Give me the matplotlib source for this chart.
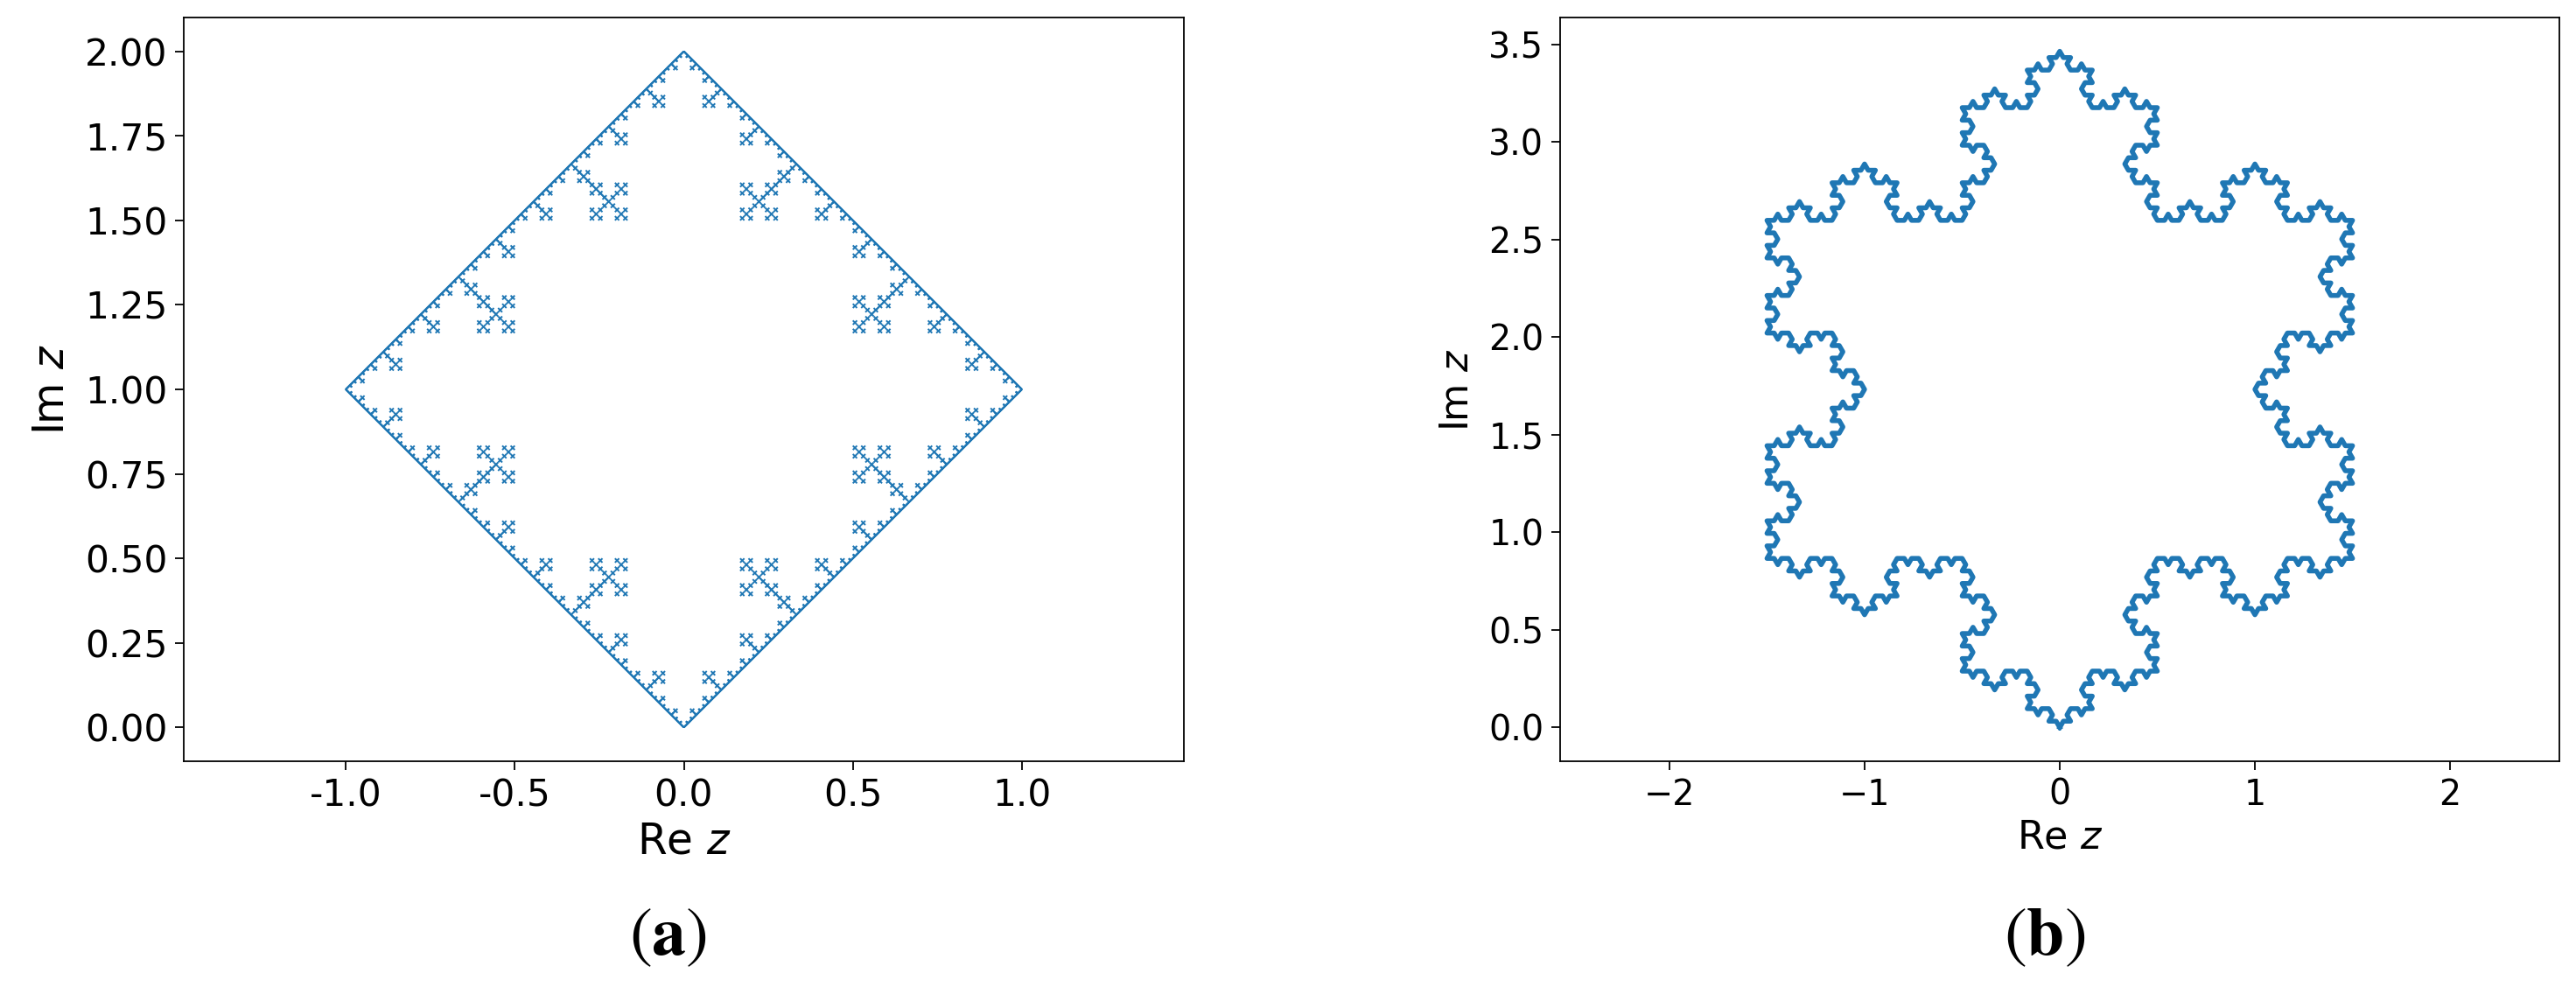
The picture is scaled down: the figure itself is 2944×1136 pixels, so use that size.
"""
Two fractal curves in the complex plane: a square with hanging crosses (a)
and a Koch snowflake (b).
"""
import numpy as np
import matplotlib
matplotlib.use("Agg")
import matplotlib.pyplot as plt
from matplotlib.collections import LineCollection

# panel (a): corners of the square, walked counter-clockwise
square_re = [0.0, 1.0, 0.0, -1.0]
square_im = [0.0, 1.0, 2.0, 1.0]
square_depth = 4
# crosses hanging off each third-point of an edge (fractions of the edge length)
cross_offset = [1 / 9, 1 / 27, 1 / 81]
cross_span = [1 / 9, 1 / 27, 1 / 81]

# panel (b): seed triangle of the snowflake, counter-clockwise
koch_re = [0.0, 1.5, -1.5]
koch_im = [0.0, 2.598, 2.598]
koch_depth = 4

a_xticks = [-1.0, -0.5, 0.0, 0.5, 1.0]
a_yticks = [0.0, 0.25, 0.5, 0.75, 1.0, 1.25, 1.5, 1.75, 2.0]
b_xticks = [-2, -1, 0, 1, 2]
b_yticks = [0.0, 0.5, 1.0, 1.5, 2.0, 2.5, 3.0, 3.5]

BLUE = "#1f77b4"
MIN_SPAN = 0.02


def vicsek(c, u, span, segs):
    # plus-shaped Vicsek cross, arms along u and i*u
    if span < MIN_SPAN:
        h = span / 2
        segs.append([c - h * u, c + h * u])
        segs.append([c - h * 1j * u, c + h * 1j * u])
        return
    for off in (0, u, -u, 1j * u, -1j * u):
        vicsek(c + off * span / 3, u, span / 3, segs)


def square_edge(a, b, depth, segs):
    segs.append([a, b])
    if depth == 0:
        return
    d = b - a
    ell = abs(d)
    u = d / ell
    n = 1j * u  # points to the inside
    for t in (1 / 3, 2 / 3):
        p = a + t * d
        segs.append([p, p + n * ell * cross_offset[0]])
        for off, span in zip(cross_offset, cross_span):
            vicsek(p + n * ell * off, u, ell * span, segs)
    for k in range(3):
        square_edge(a + k * d / 3, a + (k + 1) * d / 3, depth - 1, segs)


def koch(a, b, depth, pts):
    if depth == 0:
        pts.append(a)
        return
    d = (b - a) / 3
    p1 = a + d
    p3 = a + 2 * d
    peak = p1 + d * np.exp(-1j * np.pi / 3)
    for s, e in ((a, p1), (p1, peak), (peak, p3), (p3, b)):
        koch(s, e, depth - 1, pts)


def to_xy(segs):
    z = np.array(segs)
    return np.stack([z.real, z.imag], axis=-1)


# build the two curves
sq = [complex(x, y) for x, y in zip(square_re, square_im)]
segs = []
for i in range(len(sq)):
    square_edge(sq[i], sq[(i + 1) % len(sq)], square_depth, segs)

tri = [complex(x, y) for x, y in zip(koch_re, koch_im)]
pts = []
for i in range(len(tri)):
    koch(tri[i], tri[(i + 1) % len(tri)], koch_depth, pts)
pts.append(pts[0])
pts = np.array(pts)

fig = plt.figure(figsize=(29.44, 11.36), dpi=100)
ax1 = fig.add_axes([210 / 2944, 266 / 1136, 1143 / 2944, 850 / 1136])
ax2 = fig.add_axes([1783 / 2944, 266 / 1136, 1142 / 2944, 850 / 1136])

ax1.add_collection(LineCollection(to_xy(segs), colors=BLUE, linewidths=1.4))
ax1.autoscale_view()
ax2.plot(pts.real, pts.imag, color=BLUE, lw=4)

for ax, xt, yt, tfs, lfs in ((ax1, a_xticks, a_yticks, 30.5, 35),
                             (ax2, b_xticks, b_yticks, 28.5, 32)):
    ax.set_aspect("equal", adjustable="datalim")
    ax.set_xticks(xt)
    ax.set_yticks(yt)
    ax.tick_params(labelsize=tfs, length=7.5, width=1.3, pad=6)
    for sp in ax.spines.values():
        sp.set_linewidth(1.3)
    ax.set_xlabel(r"Re $z$", fontsize=lfs, labelpad=5)
    ax.set_ylabel(r"Im $z$", fontsize=lfs, labelpad=10)

ax1.yaxis.set_major_formatter(matplotlib.ticker.FormatStrFormatter("%.2f"))
ax1.xaxis.set_major_formatter(matplotlib.ticker.FormatStrFormatter("%.1f"))
ax2.yaxis.set_major_formatter(matplotlib.ticker.FormatStrFormatter("%.1f"))

fig.text(763 / 2944, 1 - 1069 / 1136, r"$(\mathbf{a})$", fontsize=56,
         ha="center", va="center", math_fontfamily="stix")
fig.text(2337 / 2944, 1 - 1069 / 1136, r"$(\mathbf{b})$", fontsize=56,
         ha="center", va="center", math_fontfamily="stix")

fig.savefig("out.png", dpi=100)
